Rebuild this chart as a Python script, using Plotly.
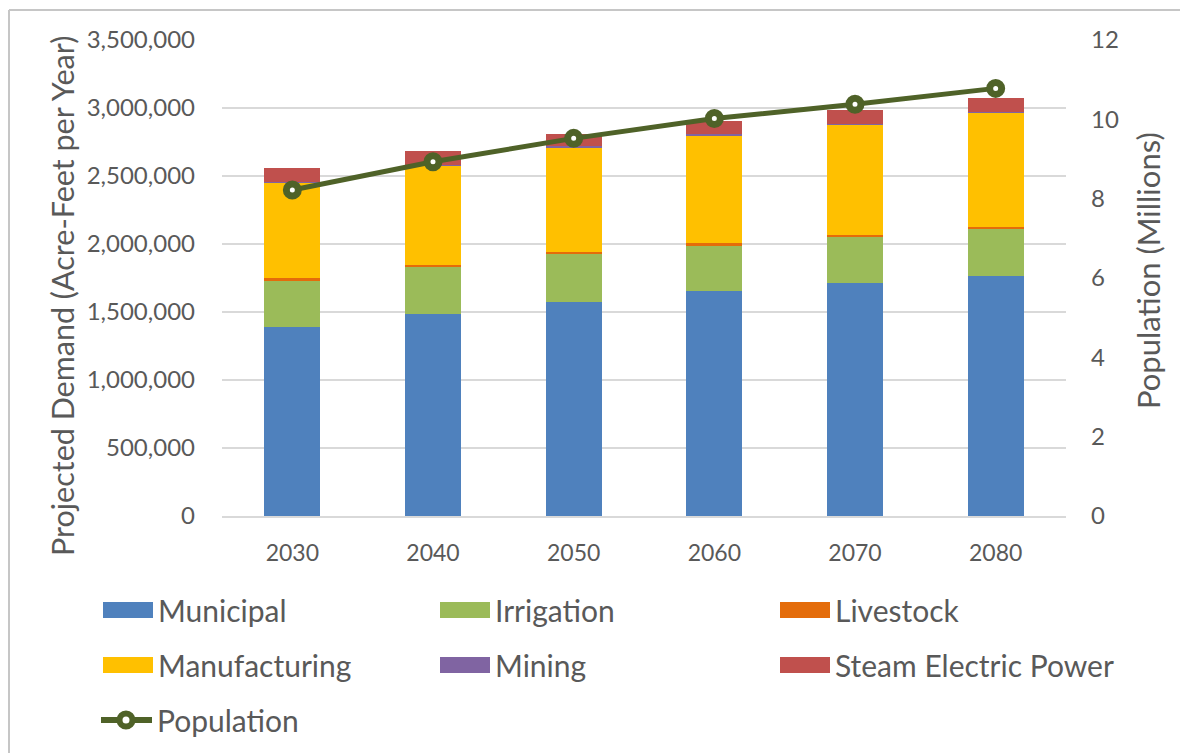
import plotly.graph_objects as go

years = ["2030", "2040", "2050", "2060", "2070", "2080"]
municipal = [1388000, 1483000, 1576000, 1652000, 1710000, 1767000]
irrigation = [347000, 347000, 347000, 335000, 338000, 347000]
livestock = [12000, 17000, 15000, 20000, 17000, 12000]
manufacturing = [704000, 731000, 775000, 794000, 814000, 841000]
mining = [3000, 3000, 6000, 5000, 5000, 3000]
steam = [102000, 103000, 87000, 97000, 98000, 102000]
population = [8.22, 8.93, 9.52, 10.02, 10.38, 10.78]

series_names = ["Municipal", "Irrigation", "Livestock", "Manufacturing", "Mining", "Steam Electric Power"]
series_values = [municipal, irrigation, livestock, manufacturing, mining, steam]
series_colors = ["#4F81BD", "#9BBB59", "#E46C0A", "#FFC000", "#8064A2", "#C0504D"]
pop_color = "#4F6228"
text_color = "#595959"
FONT = "Lato, Carlito, 'Liberation Sans', sans-serif"

# page is rendered with an 8px body margin; figure is sized to fit the window exactly
OFF = 8
W, H = 1188 - OFF, 753 - OFF
PLOT_X0, PLOT_X1, PLOT_Y0, PLOT_Y1 = 222, 1066, 40, 516  # page pixels of the plot area
L = PLOT_X0 - OFF
R = W - (PLOT_X1 - OFF)
T = PLOT_Y0 - OFF
B = H - (PLOT_Y1 - OFF)
PW, PH = PLOT_X1 - PLOT_X0, PLOT_Y1 - PLOT_Y0


def px(x):
    return (x - PLOT_X0) / PW


def py(y):
    return (PLOT_Y1 - y) / PH


fig = go.Figure()
for name, vals, col in zip(series_names, series_values, series_colors):
    fig.add_trace(go.Bar(x=years, y=vals, name=name, marker=dict(color=col, line=dict(width=0)),
                         showlegend=False))

fig.add_trace(go.Scatter(x=years, y=population, name="Population", yaxis="y2", mode="lines+markers",
                         line=dict(color=pop_color, width=5),
                         marker=dict(size=12, color="white", line=dict(color=pop_color, width=7)),
                         showlegend=False))

shapes = []
annotations = []

# frame lines
shapes.append(dict(type="line", xref="paper", yref="paper", x0=px(9), x1=px(1188), y0=py(10), y1=py(10),
                   line=dict(color="#C6C6C6", width=2)))
shapes.append(dict(type="line", xref="paper", yref="paper", x0=px(9), x1=px(9), y0=py(10), y1=py(753),
                   line=dict(color="#C6C6C6", width=2)))

# axis titles
annotations.append(dict(text="Projected Demand (Acre-Feet per Year)", xref="paper", yref="paper",
                        x=px(62), y=py(296), xanchor="center", yanchor="middle", textangle=-90,
                        showarrow=False, font=dict(family=FONT, size=30.5, color=text_color)))
annotations.append(dict(text="Population (Millions)", xref="paper", yref="paper",
                        x=px(1148), y=py(271), xanchor="center", yanchor="middle", textangle=-90,
                        showarrow=False, font=dict(family=FONT, size=31, color=text_color)))

# custom legend
col_x = [103, 440, 780]
row_y = [610, 665]
for i, (name, col) in enumerate(zip(series_names, series_colors)):
    cx = col_x[i % 3]
    cy = row_y[i // 3]
    shapes.append(dict(type="rect", xref="paper", yref="paper", x0=px(cx), x1=px(cx + 50),
                       y0=py(cy - 8), y1=py(cy + 8), fillcolor=col, line=dict(width=0)))
    annotations.append(dict(text=name, xref="paper", yref="paper", x=px(cx + 53), y=py(cy),
                            xanchor="left", yanchor="middle", showarrow=False,
                            font=dict(family=FONT, size=30, color=text_color)))

ly = 720
shapes.append(dict(type="line", xref="paper", yref="paper", x0=px(101), x1=px(152), y0=py(ly), y1=py(ly),
                   line=dict(color=pop_color, width=6)))
shapes.append(dict(type="circle", xref="paper", yref="paper", x0=px(126 - 6.5), x1=px(126 + 6.5),
                   y0=py(ly + 6.5), y1=py(ly - 6.5), fillcolor="white", line=dict(color=pop_color, width=6)))
annotations.append(dict(text="Population", xref="paper", yref="paper", x=px(155), y=py(ly),
                        xanchor="left", yanchor="middle", showarrow=False,
                        font=dict(family=FONT, size=30, color=text_color)))

fig.update_layout(
    width=W, height=H,
    margin=dict(l=L, r=R, t=T, b=B, autoexpand=False),
    paper_bgcolor="white", plot_bgcolor="white",
    barmode="stack", bargap=0.6,
    font=dict(family=FONT, color=text_color),
    showlegend=False,
    shapes=shapes, annotations=annotations,
    xaxis=dict(type="category", showgrid=False, showline=True, linecolor="#D9D9D9", linewidth=2,
               ticks="", tickfont=dict(size=23, color=text_color), ticklabelstandoff=15),
    yaxis=dict(range=[0, 3500000], dtick=500000, tickformat=",d", showgrid=True, gridcolor="#D9D9D9",
               gridwidth=2, zeroline=False, ticks="", tickfont=dict(size=24, color=text_color),
               ticklabelstandoff=26),
    yaxis2=dict(range=[0, 12], dtick=2, overlaying="y", side="right", showgrid=False, zeroline=False,
                ticks="", tickfont=dict(size=24, color=text_color), ticklabelstandoff=24),
)

fig.write_html("out.html")
